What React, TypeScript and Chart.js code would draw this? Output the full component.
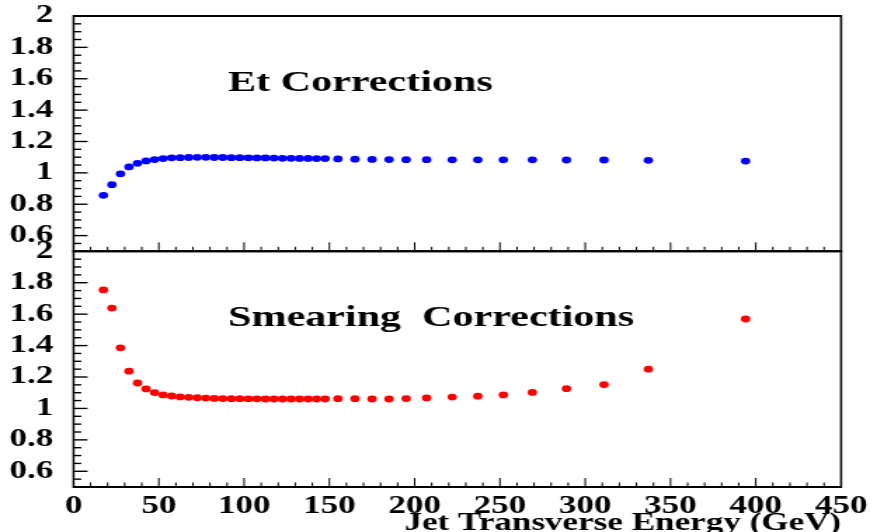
import React, { useEffect, useRef } from "react";
import { Chart, registerables } from "chart.js";

Chart.register(...registerables);

// ---- data ----
const ET_VALUES = [
  17.5, 22.5, 27.5, 32.5, 37.5, 42.5, 47.5, 52.5, 57.5, 62.5, 67.5, 72.5, 77.5, 82.5,
  87.5, 92.5, 97.5, 102.5, 107.5, 112.5, 117.5, 122.5, 127.5, 132.5, 137.5, 142.5, 147.5,
  155, 165, 175, 185, 195, 207, 222, 237, 252, 269, 289, 311, 337, 394,
];
const ET_CORRECTIONS = [
  0.857, 0.925, 0.994, 1.038, 1.061, 1.076, 1.085, 1.091, 1.096, 1.097, 1.098, 1.099, 1.099, 1.098,
  1.098, 1.097, 1.097, 1.096, 1.095, 1.095, 1.094, 1.093, 1.093, 1.092, 1.092, 1.091, 1.091,
  1.089, 1.087, 1.086, 1.085, 1.084, 1.084, 1.083, 1.083, 1.083, 1.083, 1.082, 1.082, 1.08, 1.075,
];
const SMEARING_CORRECTIONS = [
  1.754, 1.639, 1.386, 1.237, 1.162, 1.124, 1.101, 1.086, 1.079, 1.073, 1.071, 1.068, 1.066, 1.064,
  1.063, 1.062, 1.062, 1.061, 1.061, 1.06, 1.06, 1.06, 1.06, 1.06, 1.06, 1.06, 1.06,
  1.062, 1.062, 1.06, 1.06, 1.063, 1.067, 1.072, 1.078, 1.086, 1.102, 1.126, 1.152, 1.25, 1.569,
];
const X_TICKS = [0, 50, 100, 150, 200, 250, 300, 350, 400, 450];
const Y_TICKS = [0.6, 0.8, 1, 1.2, 1.4, 1.6, 1.8, 2];
const TOP_LABEL = "Et Corrections";
const BOTTOM_LABEL = "Smearing  Corrections";
const X_TITLE = "Jet Transverse Energy (GeV)";

// ---- layout (canvas drawn narrow, stretched horizontally by CSS) ----
const CW = 620;
const CH = 532;
const AXIS_LEFT = 52.4;
const PAD_RIGHT = 20.6;
const TOP_Y = 16;
const MID_Y = 251.3;
const BOTTOM_Y = 487;
const SERIF = '"Liberation Serif", "Times New Roman", serif';

Chart.defaults.font.family = SERIF;

function makeFramePlugin(label: string, lx: number, ly: number, xTitle: boolean) {
  return {
    id: "frame",
    afterDraw(chart: any) {
      const { ctx, chartArea: a, scales } = chart;
      const xs = scales.x;
      const ys = scales.y;
      ctx.save();
      ctx.strokeStyle = "#000";
      // x ticks (inside, from bottom edge)
      ctx.lineWidth = 1;
      for (let k = 1; k < 45; k++) {
        const px = xs.getPixelForValue(k * 10);
        const len = k % 5 === 0 ? 9 : 4.5;
        ctx.beginPath();
        ctx.moveTo(px, a.bottom);
        ctx.lineTo(px, a.bottom - len);
        ctx.stroke();
      }
      // y ticks (inside, from left edge)
      ctx.lineWidth = 1.4;
      for (let k = 11; k < 40; k++) {
        const py = ys.getPixelForValue(k * 0.05);
        const len = k % 4 === 0 ? 10 : 5.5;
        ctx.beginPath();
        ctx.moveTo(a.left, py);
        ctx.lineTo(a.left + len, py);
        ctx.stroke();
      }
      // frame
      ctx.lineWidth = 2;
      ctx.beginPath();
      ctx.moveTo(a.left, a.top);
      ctx.lineTo(a.right, a.top);
      ctx.moveTo(a.left, a.bottom);
      ctx.lineTo(a.right, a.bottom);
      ctx.stroke();
      ctx.lineWidth = 1.5;
      ctx.beginPath();
      ctx.moveTo(a.left, a.top - 1);
      ctx.lineTo(a.left, a.bottom + 1);
      ctx.moveTo(a.right, a.top - 1);
      ctx.lineTo(a.right, a.bottom + 1);
      ctx.stroke();
      // panel label
      ctx.fillStyle = "#000";
      ctx.textBaseline = "alphabetic";
      ctx.textAlign = "left";
      ctx.font = `bold 30px ${SERIF}`;
      ctx.fillText(label, lx, ly);
      if (xTitle) {
        ctx.textAlign = "right";
        ctx.font = `bold 25px ${SERIF}`;
        ctx.fillText(X_TITLE, a.right, 530);
      }
      ctx.restore();
    },
  };
}

function buildOptions(top: boolean): any {
  const xScale: any = {
    type: "linear",
    min: 0,
    max: 450,
    display: !top,
    grid: { display: false, drawTicks: false },
    border: { display: false },
    afterBuildTicks: (s: any) => {
      s.ticks = X_TICKS.map((v) => ({ value: v }));
    },
    afterFit: (s: any) => {
      if (!top) s.height = CH - BOTTOM_Y;
      s.paddingLeft = 0;
      s.paddingRight = 0;
    },
    ticks: {
      color: "#000",
      padding: 5,
      maxRotation: 0,
      autoSkip: false,
      font: { family: SERIF, weight: "bold", size: 25 },
      callback: (v: any) => String(v),
    },
  };
  return {
    responsive: false,
    animation: false,
    devicePixelRatio: 1,
    events: [],
    layout: {
      padding: top
        ? { left: 0, right: PAD_RIGHT, top: TOP_Y, bottom: CH - MID_Y }
        : { left: 0, right: PAD_RIGHT, top: MID_Y, bottom: 0 },
    },
    plugins: { legend: { display: false }, tooltip: { enabled: false }, title: { display: false } },
    scales: {
      x: xScale,
      y: {
        type: "linear",
        min: 0.5,
        max: 2,
        grid: { display: false, drawTicks: false },
        border: { display: false },
        afterBuildTicks: (s: any) => {
          s.ticks = Y_TICKS.map((v) => ({ value: v }));
        },
        afterFit: (s: any) => {
          s.width = AXIS_LEFT;
          s.paddingTop = 0;
          s.paddingBottom = 0;
        },
        ticks: {
          color: "#000",
          padding: 14.4,
          autoSkip: false,
          font: { family: SERIF, weight: "bold", size: 25 },
          callback: (v: any) => String(Math.round(Number(v) * 10) / 10),
        },
      },
    },
  };
}

function Panel({ top }: { top: boolean }) {
  const ref = useRef<HTMLCanvasElement | null>(null);
  useEffect(() => {
    if (!ref.current) return;
    const values = top ? ET_CORRECTIONS : SMEARING_CORRECTIONS;
    const chart = new Chart(ref.current, {
      type: "scatter",
      data: {
        datasets: [
          {
            data: ET_VALUES.map((x, i) => ({ x, y: values[i] })),
            backgroundColor: top ? "#0000ff" : "#ff0000",
            borderWidth: 0,
            pointRadius: 3.4,
            showLine: false,
          },
        ],
      },
      options: buildOptions(top),
      plugins: [
        top
          ? makeFramePlugin(TOP_LABEL, 162.5, 91, false)
          : makeFramePlugin(BOTTOM_LABEL, 162.5, 325.5, true),
      ],
    } as any);
    return () => chart.destroy();
  }, [top]);
  return (
    <canvas
      ref={ref}
      width={CW}
      height={CH}
      style={{ position: "absolute", left: 0, top: 0, width: 870, height: 532 }}
    />
  );
}

export default function App() {
  return (
    <div
      style={{
        position: "fixed",
        left: 0,
        top: 0,
        width: 870,
        height: 532,
        background: "#fff",
        overflow: "hidden",
      }}
    >
      <Panel top={true} />
      <Panel top={false} />
    </div>
  );
}
